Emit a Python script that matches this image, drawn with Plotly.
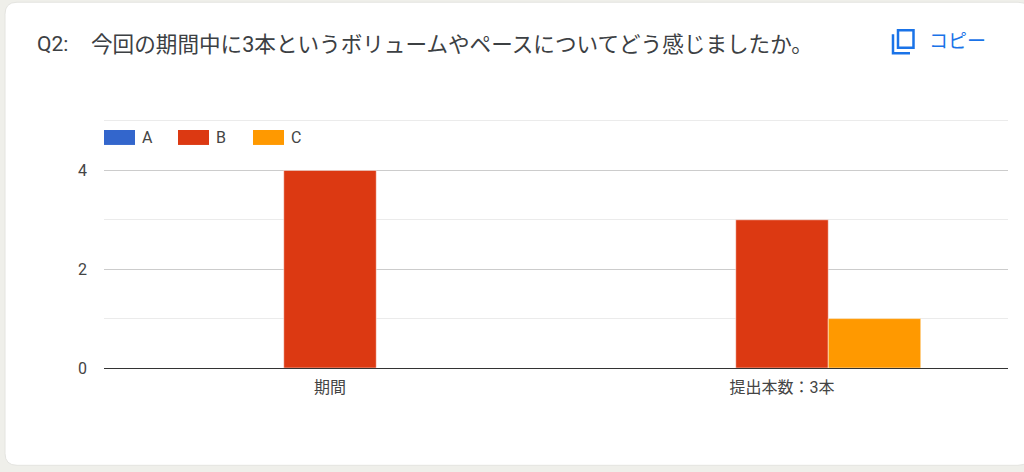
import plotly.graph_objects as go

categories = ["期間", "提出本数：3本"]
series_names = ["A", "B", "C"]
a_values = [0, 0]
b_values = [4, 3]
c_values = [0, 1]
colors = ["#3366cc", "#dc3912", "#ff9900"]
y_ticks = [0, 2, 4]

W, H = 1024, 472
L, R, T, B = 104, 1008, 119, 368.5
FONT = "Roboto, 'Noto Sans CJK JP', sans-serif"


def px(x):
    return (x - L) / (R - L)


def py(y):
    return (B - y) / (B - T)


fig = go.Figure()
for name, values, color in zip(series_names, [a_values, b_values, c_values], colors):
    fig.add_trace(go.Bar(x=categories, y=values, name=name, marker=dict(color=color, line=dict(color="white", width=0.5))))

fig.update_layout(
    width=W,
    height=H,
    barmode="group",
    bargap=0.386,
    bargroupgap=0,
    showlegend=False,
    paper_bgcolor="#efefea",
    plot_bgcolor="rgba(0,0,0,0)",
    margin=dict(l=L, r=W - R, t=T, b=H - B, pad=0),
    font=dict(family=FONT, size=16, color="#444444"),
    xaxis=dict(
        showgrid=False,
        showline=False,
        ticks="",
        ticklabelstandoff=8,
        tickfont=dict(size=16, color="#444444"),
        zeroline=False,
    ),
    yaxis=dict(
        # a bit over 5 or plotly drops the top minor gridline at the edge
        range=[0, 5.04],
        tickvals=y_ticks,
        gridcolor="#cccccc",
        gridwidth=1,
        zeroline=True,
        zerolinecolor="#333333",
        zerolinewidth=1,
        ticks="",
        ticklabelstandoff=16,
        tickfont=dict(size=16, color="#444444"),
        minor=dict(tickvals=[1, 3, 5], showgrid=True, gridcolor="#ebebeb", gridwidth=1, ticks=""),
    ),
)

# white card behind the plot
x0, x1, y0, y1, r = 5, 1030, 2, 466, 12
card = (
    f"M{px(x0)},{py(y0 + r)} Q{px(x0)},{py(y0)} {px(x0 + r)},{py(y0)} "
    f"L{px(x1 - r)},{py(y0)} Q{px(x1)},{py(y0)} {px(x1)},{py(y0 + r)} "
    f"L{px(x1)},{py(y1 - r)} Q{px(x1)},{py(y1)} {px(x1 - r)},{py(y1)} "
    f"L{px(x0 + r)},{py(y1)} Q{px(x0)},{py(y1)} {px(x0)},{py(y1 - r)} Z"
)
fig.add_shape(type="path", path=card, xref="paper", yref="paper", layer="below",
              fillcolor="white", line=dict(color="#e4e4e0", width=1))

# legend
for name, color, sx in zip(series_names, colors, [104, 178, 253]):
    fig.add_shape(type="rect", xref="paper", yref="paper", x0=px(sx), x1=px(sx + 31),
                  y0=py(145), y1=py(130), fillcolor=color, line=dict(width=0))
    fig.add_annotation(text=name, xref="paper", yref="paper", x=px(sx + 36), y=py(137.5),
                       xanchor="left", yanchor="middle", showarrow=False,
                       font=dict(size=16, color="#444444"))

# title
fig.add_annotation(text="Q2:", xref="paper", yref="paper", x=px(35), y=py(44),
                   xanchor="left", yanchor="middle", showarrow=False,
                   font=dict(size=21, color="#3c4043"))
fig.add_annotation(text="今回の期間中に3本というボリュームやペースについてどう感じましたか。",
                   xref="paper", yref="paper", x=px(89), y=py(44),
                   xanchor="left", yanchor="middle", showarrow=False,
                   font=dict(size=21.6, color="#3c4043"))

# copy button
BLUE = "#1a73e8"
fig.add_shape(type="rect", xref="paper", yref="paper", x0=px(898), x1=px(913.5), y0=py(30), y1=py(47.5),
              fillcolor="white", line=dict(color=BLUE, width=2.5))
fig.add_shape(type="path", xref="paper", yref="paper",
              path=f"M{px(893)},{py(34)} L{px(893)},{py(53)} L{px(910)},{py(53)}",
              line=dict(color=BLUE, width=2.5))
fig.add_annotation(text="コピー", xref="paper", yref="paper", x=px(927), y=py(41),
                   xanchor="left", yanchor="middle", showarrow=False,
                   font=dict(size=19, color=BLUE))

# the page's default body margin would push the figure 8px in
fig.write_html("out.html", config=dict(displayModeBar=False), post_script="document.body.style.margin='0';")
